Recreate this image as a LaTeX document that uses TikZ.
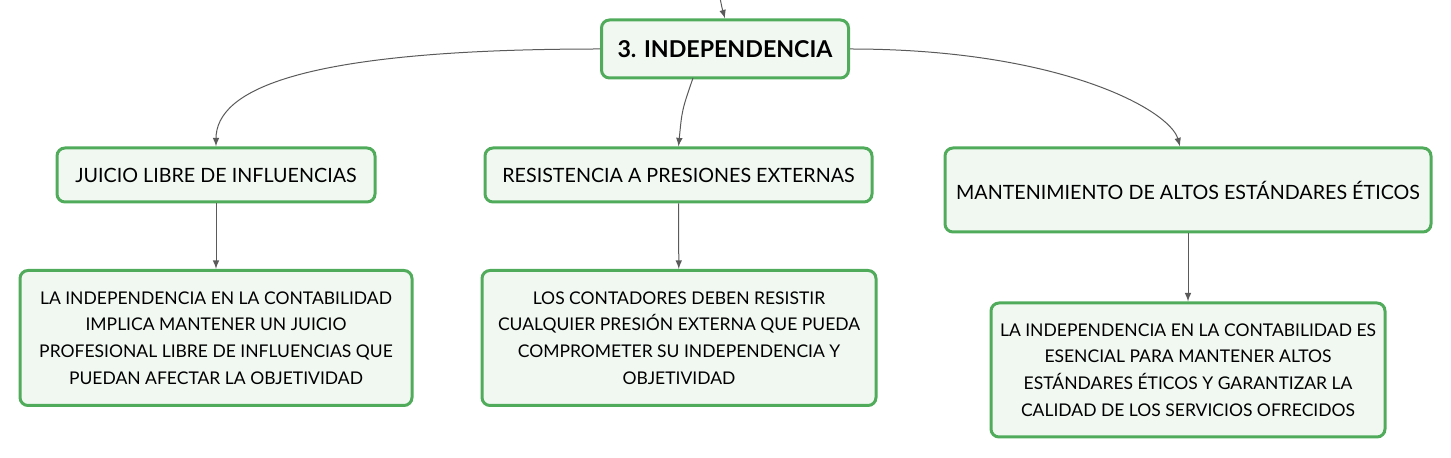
\documentclass[tikz,border=0pt]{standalone}
\usepackage{fontspec}
\setmainfont{Lato}
\usetikzlibrary{positioning}

\definecolor{boxgreen}{RGB}{80,172,90}
\definecolor{boxfill}{RGB}{241,248,242}
\definecolor{linkgray}{RGB}{90,90,90}

\begin{document}
\begin{tikzpicture}[>=latex, x=0.5pt, y=-0.5pt,
    topic/.style={draw=boxgreen, fill=boxfill, line width=1.5pt, rounded corners=4pt,
        align=center, inner sep=0pt, font=\fontsize{9.85}{14}\selectfont},
    detail/.style={topic, font=\fontsize{8.75}{13.3}\selectfont},
    link/.style={->, linkgray, line width=0.5pt}]
    \useasboundingbox (0,0) rectangle (1451,458);

    \node[topic, minimum width=123.5pt, minimum height=29pt, font=\fontsize{11.6}{14}\selectfont\bfseries] (title) at (725,49) {3. INDEPENDENCIA};

    \node[topic, minimum width=159pt, minimum height=27pt] (juicio) at (216,175) {JUICIO LIBRE DE INFLUENCIAS};
    \node[topic, minimum width=193.5pt, minimum height=27pt] (presion) at (678.5,175) {RESISTENCIA A PRESIONES EXTERNAS};
    \node[topic, minimum width=243pt, minimum height=42pt] (etica) at (1188,190) {MANTENIMIENTO DE ALTOS ESTÁNDARES ÉTICOS};

    \node[detail, minimum width=196pt, minimum height=67.5pt] (juicioTxt) at (216,338)
        {LA INDEPENDENCIA EN LA CONTABILIDAD\\IMPLICA MANTENER UN JUICIO\\PROFESIONAL LIBRE DE INFLUENCIAS QUE\\PUEDAN AFECTAR LA OBJETIVIDAD};
    \node[detail, minimum width=197pt, minimum height=67.5pt] (presionTxt) at (679,338)
        {LOS CONTADORES DEBEN RESISTIR\\CUALQUIER PRESIÓN EXTERNA QUE PUEDA\\COMPROMETER SU INDEPENDENCIA Y\\OBJETIVIDAD};
    \node[detail, minimum width=197pt, minimum height=67pt] (eticaTxt) at (1188,370)
        {LA INDEPENDENCIA EN LA CONTABILIDAD ES\\ESENCIAL PARA MANTENER ALTOS\\ESTÁNDARES ÉTICOS Y GARANTIZAR LA\\CALIDAD DE LOS SERVICIOS OFRECIDOS};

    \coordinate (parent) at (720,-2);
    \coordinate (titleB) at (693,78);

    \draw[link] (parent) .. controls (722,8) .. (title.north);
    \draw[link] (title.west) .. controls (300,49) and (216,90) .. (juicio.north);
    \draw[link] (titleB) .. controls (682,110) .. (presion.north);
    \draw[link] (title.east) .. controls (1060,49) and (1170,110) .. ([xshift=-4pt]etica.north);

    \draw[link] (juicio) -- (juicioTxt);
    \draw[link] (presion) -- (presionTxt);
    \draw[link] (etica) -- (eticaTxt);
\end{tikzpicture}
\end{document}
